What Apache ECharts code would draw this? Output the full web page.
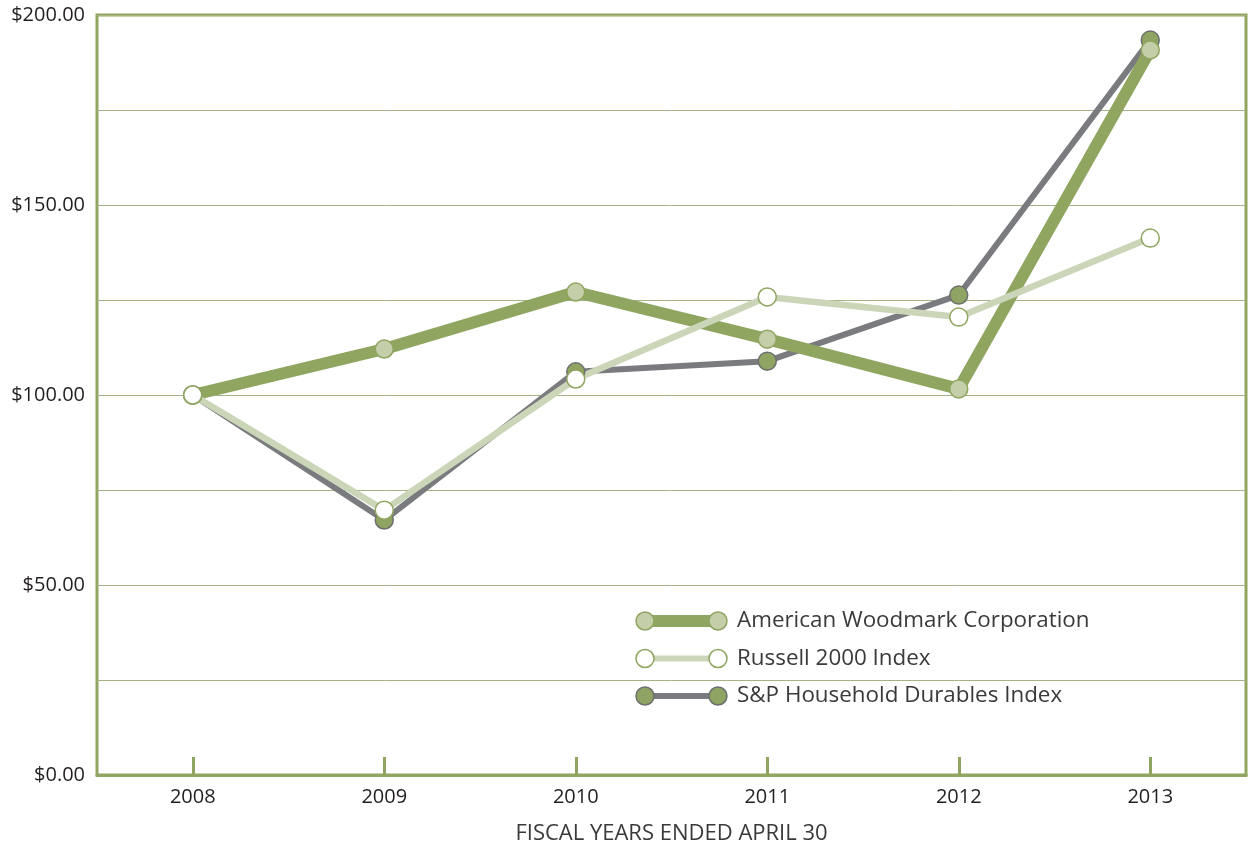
<!DOCTYPE html>
<html>
<head>
<meta charset="utf-8">
<script src="https://cdn.jsdelivr.net/npm/echarts@6/dist/echarts.min.js"></script>
<style>
  html, body { margin: 0; padding: 0; background: #fff; }
  #chart { width: 1254px; height: 846px; }
</style>
</head>
<body>
<div id="chart"></div>
<script>
// values (indexed to $100 in 2008)
const years = ['2008', '2009', '2010', '2011', '2012', '2013'];
const woodmark = [100, 112.1, 127.1, 114.7, 101.6, 190.8];
const russell = [100, 69.7, 104.2, 125.8, 120.5, 141.3];
const household = [100, 67.1, 106.1, 108.9, 126.3, 193.4];
const yTicks = [0, 50, 100, 150, 200];

const green = '#8fa560';
const font = '"Open Sans", sans-serif';

const chart = echarts.init(document.getElementById('chart'));

// legend drawn by hand: line with a circle at each end
const legendItems = [
    { name: 'American Woodmark Corporation', line: '#8fa560', width: 12, fill: '#c4cfaa', border: '#8fa560' },
    { name: 'Russell 2000 Index', line: '#cbd6b8', width: 6, fill: '#ffffff', border: '#8fa560' },
    { name: 'S&P Household Durables Index', line: '#7a7b7f', width: 6, fill: '#8fa462', border: '#6d706f' }
];
const legendGraphic = [];
legendItems.forEach((it, i) => {
    const y = 621 + i * 37.5;
    legendGraphic.push({ type: 'line', shape: { x1: 645, y1: y, x2: 718, y2: y }, style: { stroke: it.line, lineWidth: it.width } });
    [645, 718].forEach(x => {
        legendGraphic.push({ type: 'circle', shape: { cx: x, cy: y, r: 9 }, style: { fill: it.fill, stroke: it.border, lineWidth: 1.5 } });
    });
    legendGraphic.push({
        type: 'text', x: 737, y: y, style: { text: it.name, font: '22.4px ' + font, fill: '#3a3a3a', textVerticalAlign: 'middle' }
    });
});

chart.setOption({
    animation: false,
    grid: {
        left: 97, top: 15, right: 8, bottom: 71,
        outerBoundsMode: 'none', containLabel: false,
        show: true, borderColor: green, borderWidth: 3
    },
    xAxis: {
        type: 'category',
        data: years,
        name: 'FISCAL YEARS ENDED APRIL 30',
        nameLocation: 'middle',
        nameGap: 48,
        nameTextStyle: { fontFamily: font, fontSize: 22, color: '#3a3a3a' },
        axisLine: { lineStyle: { color: green, width: 3 } },
        axisTick: { show: true, interval: 0, alignWithLabel: true, inside: true, length: 18, lineStyle: { color: green, width: 3 } },
        axisLabel: { fontFamily: font, fontSize: 20, color: '#231f20', margin: 12 }
    },
    yAxis: {
        type: 'value',
        min: 0,
        max: 200,
        interval: 25,
        axisLine: { show: false },
        axisTick: { show: false },
        splitLine: { lineStyle: { color: '#a3b385', width: 1 } },
        axisLabel: {
            fontFamily: font, fontSize: 20, color: '#231f20', margin: 12,
            formatter: v => yTicks.includes(v) ? '$' + v.toFixed(2) : ''
        }
    },
    graphic: legendGraphic,
    series: [
        {
            name: 'S&P Household Durables Index',
            type: 'line',
            data: household,
            symbol: 'circle',
            symbolSize: 18,
            lineStyle: { color: '#7a7b7f', width: 6 },
            itemStyle: { color: '#8fa462', borderColor: '#6d706f', borderWidth: 1.5 }
        },
        {
            name: 'American Woodmark Corporation',
            type: 'line',
            data: woodmark,
            symbol: 'circle',
            symbolSize: 18,
            lineStyle: { color: '#8fa560', width: 12 },
            itemStyle: { color: '#c4cfaa', borderColor: '#8fa560', borderWidth: 1.5 }
        },
        {
            name: 'Russell 2000 Index',
            type: 'line',
            data: russell,
            symbol: 'circle',
            symbolSize: 18,
            lineStyle: { color: '#cbd6b8', width: 6.5 },
            itemStyle: { color: '#ffffff', borderColor: '#8fa560', borderWidth: 1.5 }
        }
    ]
});
</script>
</body>
</html>
